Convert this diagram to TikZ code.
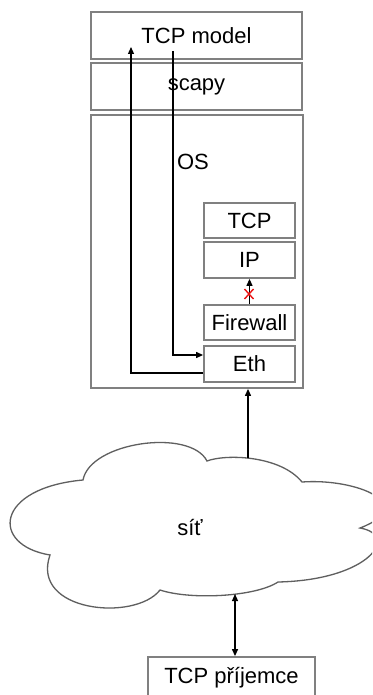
\documentclass[tikz,border=0pt]{standalone}
\usepackage{fontspec}
\setmainfont{Liberation Sans}
\usetikzlibrary{arrows.meta}
\definecolor{boxgray}{RGB}{128,128,128}
\definecolor{cloudgray}{RGB}{95,95,95}
\definecolor{blockred}{RGB}{235,20,20}
\begin{document}
\begin{tikzpicture}[x=1pt,y=-1pt,
  lbl/.style={font=\fontsize{22}{26}\selectfont},
  layer/.style={lbl,draw=boxgray,line width=1.8pt,fill=white,inner sep=0pt},
  conn/.style={line width=1.2pt,-{Triangle[length=7pt,width=6pt]}},
  biconn/.style={line width=1.2pt,{Triangle[length=7pt,width=6pt]}-{Triangle[length=7pt,width=6pt]}},
  cross/.style={draw=blockred,line width=1.4pt}
]
\fill[white] (0,0) rectangle (372,695);
\clip (0,0) rectangle (372,695);

% application stack
\node[layer,minimum width=211pt,minimum height=47pt] (model) at (196.5,35.5) {TCP model};
\node[layer,minimum width=211pt,minimum height=47pt] (scapy) at (196.5,86.5) {scapy};
\node[layer,minimum width=212pt,minimum height=273pt] (os) at (197,251.5) {};
\node[lbl] (oslabel) at (193,162) {OS};

% kernel layers
\node[layer,minimum width=91pt,minimum height=35pt] (tcp) at (249.5,220.5) {TCP};
\node[layer,minimum width=91pt,minimum height=36pt] (ip) at (249.5,260) {IP};
\node[layer,minimum width=91pt,minimum height=35pt] (fw) at (249.5,322.5) {Firewall};
\node[layer,minimum width=91pt,minimum height=36pt] (eth) at (249.5,364) {Eth};

% network cloud
\draw[draw=cloudgray,line width=1.3pt,fill=white]
  (83,480) .. controls (90,442) and (190,428) .. (207,461)
  .. controls (225,454) and (280,455) .. (302,482)
  .. controls (357,478) and (420,505) .. (360,528)
  .. controls (400,535) and (370,580) .. (278,582)
  .. controls (255,597) and (190,600) .. (160,590)
  .. controls (135,622) and (30,612) .. (50,555)
  .. controls (-10,545) and (-5,488) .. (83,480) -- cycle;
\node[lbl] (net) at (190,528) {síť};
\coordinate (cloudtop) at (248,458);
\coordinate (cloudbot) at (235,594);

% receiver
\node[layer,minimum width=167pt,minimum height=42pt] (rcv) at (231.5,678) {TCP příjemce};

% connectors
\coordinate (upend) at (131,47);
\coordinate (downstart) at (173,51);
\draw[conn] ([yshift=-9pt]eth.west) -| (upend);
\draw[conn] (downstart) |- ([yshift=9pt]eth.west);
\draw[conn] (fw.north) -- (ip.south);
\coordinate (blk) at (249,294);
\draw[cross] ([shift={(-4.5,-5)}]blk) -- ([shift={(4.5,5)}]blk);
\draw[cross] ([shift={(4.5,-5)}]blk) -- ([shift={(-4.5,5)}]blk);
\draw[conn] (cloudtop) -- (os.south -| cloudtop);
\draw[biconn] (cloudbot) -- (rcv.north -| cloudbot);
\end{tikzpicture}
\end{document}
